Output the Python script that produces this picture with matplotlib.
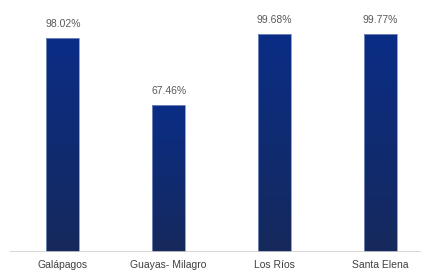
import matplotlib
matplotlib.use('Agg')
import matplotlib.pyplot as plt
import numpy as np
from matplotlib.colors import LinearSegmentedColormap

# ── Datos ──────────────────────────────────────────────────────────────────────
provincias = ['Galápagos', 'Guayas- Milagro', 'Los Ríos', 'Santa Elena']
porcentajes = [98.02, 67.46, 99.68, 99.77]
etiquetas = ['98.02%', '67.46%', '99.68%', '99.77%']

plt.rcParams['font.family'] = ['Liberation Sans', 'DejaVu Sans']

W, H = 421, 273
fig = plt.figure(figsize=(W / 100, H / 100), dpi=100)
# baseline en y=252 px, eje desde x=10 px; 2.183 px por punto porcentual
px_unit = 2.183
ax = fig.add_axes([10 / W, (H - 252) / H, 423 / W, 252 / H])
ax.set_xlim(-0.5, 3.5)
ax.set_ylim(0, 252 / px_unit)

cmap = LinearSegmentedColormap.from_list('azul', ['#16295c', '#0a2d86'])
grad = np.linspace(0, 1, 256).reshape(-1, 1)

x = np.arange(len(provincias))
bars = ax.bar(x, porcentajes, width=0.31, color='none', edgecolor='#7f93c0', linewidth=0.6, zorder=3)
for b, v in zip(bars, porcentajes):
    x0 = b.get_x()
    im = ax.imshow(grad, cmap=cmap, origin='lower', aspect='auto',
                   extent=[x0, x0 + b.get_width(), 0, v], zorder=2)
    im.set_clip_path(b)

for xi, v, t in zip(x, porcentajes, etiquetas):
    ax.text(xi, v + 14 / px_unit, t, ha='center', va='center', fontsize=7.5, color='#595959')

ax.axhline(0, color='#d0d0d0', linewidth=1.2, zorder=4)
ax.set_xticks(x)
ax.set_xticklabels(provincias, fontsize=7.5, color='#404040')
ax.tick_params(axis='x', length=0, pad=6)
ax.set_yticks([])
for s in ax.spines.values():
    s.set_visible(False)

fig.savefig('out.png', dpi=100)
